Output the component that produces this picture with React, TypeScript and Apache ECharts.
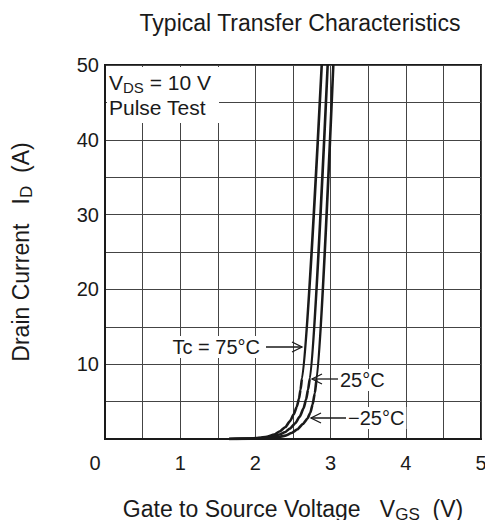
import React, { useEffect, useRef } from "react";
import * as echarts from "echarts";

// Gate-source voltage (V) and drain current (A) for each case temperature
const vgs75 = [1.65, 1.9, 2.05, 2.15, 2.25, 2.32, 2.4, 2.46, 2.51, 2.55, 2.58, 2.6, 2.62, 2.882];
const id75 = [0, 0.05, 0.15, 0.3, 0.6, 1.0, 1.6, 2.4, 3.3, 4.3, 5.4, 6.6, 8.1, 50];

const vgs25 = [1.65, 1.95, 2.1, 2.22, 2.32, 2.39, 2.46, 2.53, 2.59, 2.64, 2.675, 2.70, 2.725, 2.961];
const id25 = [0, 0.05, 0.15, 0.3, 0.6, 0.9, 1.4, 2.1, 3.0, 4.1, 5.3, 6.6, 8.1, 50];

const vgsM25 = [1.65, 2.0, 2.18, 2.3, 2.4, 2.48, 2.56, 2.63, 2.69, 2.73, 2.76, 2.79, 2.815, 3.036];
const idM25 = [0, 0.04, 0.12, 0.25, 0.45, 0.8, 1.3, 2.0, 2.7, 3.5, 4.6, 6.1, 8.1, 50];

const xTicks = [0, 1, 2, 3, 4, 5];
const yTicks = [10, 20, 30, 40, 50];

const FONT = "'Liberation Sans', Arial, Helvetica, sans-serif";
const FS = 20;
const NFS = 23;
const INK = "#1a1a1a";

function zip(xs: number[], ys: number[]) {
  return xs.map((x, i) => [x, ys[i]]);
}

export default function App() {
  const ref = useRef<HTMLDivElement>(null);
  useEffect(() => {
    if (!ref.current) return;
    const chart = echarts.init(ref.current, undefined, { renderer: "svg" });
    const curve = (name: string, xs: number[], ys: number[]) => ({
      name,
      type: "line",
      data: zip(xs, ys),
      showSymbol: false,
      smooth: 0.2,
      smoothMonotone: "x",
      lineStyle: { color: INK, width: 2.6 },
      z: 5,
    });
    const arrowHead = (tipX: number, tipY: number, dir: number) => ({
      type: "polyline",
      shape: {
        points: [
          [tipX - dir * 10, tipY - 5],
          [tipX, tipY],
          [tipX - dir * 10, tipY + 5],
        ],
      },
      style: { stroke: INK, lineWidth: 1.3, fill: "none" },
      z: 20,
    });
    const arrowLine = (x1: number, x2: number, y: number) => ({
      type: "line",
      shape: { x1, y1: y, x2, y2: y },
      style: { stroke: INK, lineWidth: 1.3 },
      z: 20,
    });
    const label = (text: string, x: number, y: number, align: string) => ({
      type: "text",
      x,
      y,
      z: 20,
      style: {
        text,
        fontSize: FS,
        fontFamily: FONT,
        fill: INK,
        align,
        verticalAlign: "middle",
        backgroundColor: "#fff",
        padding: [1, 2, 1, 2],
      },
    });
    const nameRich = {
      a: { fontSize: NFS, fontFamily: FONT, color: INK, lineHeight: 28, verticalAlign: "middle" },
      s: { fontSize: 17, fontFamily: FONT, color: INK, lineHeight: 16, verticalAlign: "bottom" },
    };
    chart.setOption({
      animation: false,
      title: {
        text: "Typical Transfer Characteristics",
        left: 295,
        top: 6,
        textAlign: "center",
        textStyle: { fontSize: 23, fontWeight: "normal", fontFamily: FONT, color: INK },
      },
      grid: {
        left: 105,
        right: 12,
        top: 65,
        bottom: 87,
        show: true,
        borderColor: INK,
        borderWidth: 2,
        backgroundColor: "transparent",
      },
      xAxis: {
        type: "value",
        min: 0,
        max: 5,
        interval: 0.5,
        name: "{a|Gate to Source Voltage   V}{s|GS}{a|  (V)}",
        nameLocation: "middle",
        nameGap: 56,
        nameTextStyle: { rich: nameRich },
        axisLine: { show: true, lineStyle: { color: INK, width: 2 } },
        axisTick: { show: false },
        axisLabel: {
          interval: 1,
          margin: 14,
          fontSize: FS,
          fontFamily: FONT,
          color: INK,
          formatter: (v: number) =>
            xTicks.indexOf(v) === 0 ? "{z|" + v + "}" : xTicks.indexOf(v) > 0 ? String(v) : "",
          rich: { z: { fontSize: FS, fontFamily: FONT, color: INK, padding: [0, 20, 4, 0] } },
        },
        splitLine: { show: true, lineStyle: { color: "#444", width: 1 } },
      },
      yAxis: {
        type: "value",
        min: 0,
        max: 50,
        interval: 5,
        name: "{a|Drain Current   I}{s|D}{a|  (A)}",
        nameLocation: "middle",
        nameGap: 70,
        nameTextStyle: { rich: nameRich },
        axisLine: { show: true, lineStyle: { color: INK, width: 2 } },
        axisTick: { show: false },
        axisLabel: {
          interval: 1,
          margin: 6,
          fontSize: FS,
          fontFamily: FONT,
          color: INK,
          formatter: (v: number) => (yTicks.indexOf(v) >= 0 ? String(v) : ""),
        },
        splitLine: { show: true, lineStyle: { color: "#444", width: 1 } },
      },
      series: [
        curve("Tc = 75°C", vgs75, id75),
        curve("25°C", vgs25, id25),
        curve("−25°C", vgsM25, idM25),
      ],
      graphic: [
        {
          type: "rect",
          shape: { x: 107, y: 67, width: 112, height: 56 },
          style: { fill: "#fff" },
          z: 10,
        },
        {
          type: "text",
          x: 109,
          y: 70,
          z: 11,
          style: {
            text: "{a|V}{s|DS}{a| = 10 V}\n{a|Pulse Test}",
            rich: {
              a: { fontSize: 21, fontFamily: FONT, fill: INK, lineHeight: 25, verticalAlign: "middle" },
              s: { fontSize: 15, fontFamily: FONT, fill: INK, lineHeight: 15, verticalAlign: "bottom" },
            },
          },
        },
        label("Tc = 75°C", 262, 347, "right"),
        arrowLine(266, 302, 347),
        arrowHead(302, 347, 1),
        label("25°C", 338, 380, "left"),
        arrowLine(312, 338, 379),
        arrowHead(312, 379, -1),
        label("−25°C", 346, 418, "left"),
        arrowLine(311, 346, 418),
        arrowHead(311, 418, -1),
      ],
    });
    return () => chart.dispose();
  }, []);
  return <div ref={ref} style={{ width: 493, height: 528, margin: -8 }} />;
}
